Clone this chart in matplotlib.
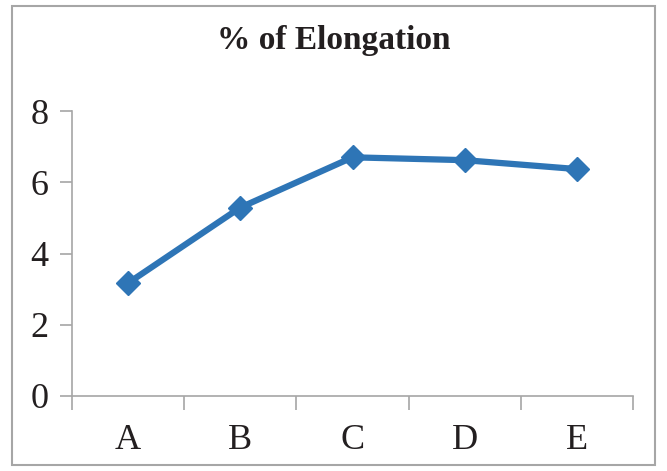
import matplotlib
matplotlib.use("Agg")
import matplotlib.pyplot as plt
from matplotlib.patches import Rectangle

categories = ["A", "B", "C", "D", "E"]
elongation = [3.17, 5.29, 6.70, 6.62, 6.37]
y_ticks = [0, 2, 4, 6, 8]

plt.rcParams["font.family"] = ["Liberation Serif", "DejaVu Serif"]
text_color = "#231F20"

fig = plt.figure(figsize=(6.67, 4.71), dpi=100)
ax = fig.add_axes([72 / 667, 1 - 396 / 471, (633 - 72) / 667, (396 - 111) / 471])

x = list(range(len(categories)))
ax.plot(x, elongation, color="#2E75B6", linewidth=4.5, marker="D",
        markersize=12, markerfacecolor="#2E75B6", markeredgecolor="#2E75B6",
        zorder=3, clip_on=False)

ax.set_xlim(-0.5, len(categories) - 0.5)
ax.set_ylim(0, 8)
ax.set_yticks(y_ticks)
ax.set_yticklabels([str(v) for v in y_ticks], fontsize=26, color=text_color)
ax.set_xticks(x)
ax.set_xticklabels(categories, fontsize=26, color=text_color)
ax.tick_params(axis="x", length=0, pad=20)
ax.tick_params(axis="y", length=9, width=1.2, color="#A6A6A6", pad=8)
ax.set_xticks([i - 0.5 for i in range(len(categories) + 1)], minor=True)
ax.tick_params(axis="x", which="minor", length=10, width=1.2, color="#A6A6A6")

for side in ("top", "right"):
    ax.spines[side].set_visible(False)
for side in ("left", "bottom"):
    ax.spines[side].set_color("#A6A6A6")
    ax.spines[side].set_linewidth(1.2)

fig.text(0.5, 1 - 40 / 471, "% of Elongation", ha="center", va="center",
         fontsize=24, fontweight="bold", color=text_color)

fig.patches.append(Rectangle((12 / 667, 1 - 465 / 471), (655 - 12) / 667,
                             (465 - 6) / 471, transform=fig.transFigure,
                             fill=False, edgecolor="#A6A6A6", linewidth=1.5))

fig.savefig("out.png", dpi=100)
